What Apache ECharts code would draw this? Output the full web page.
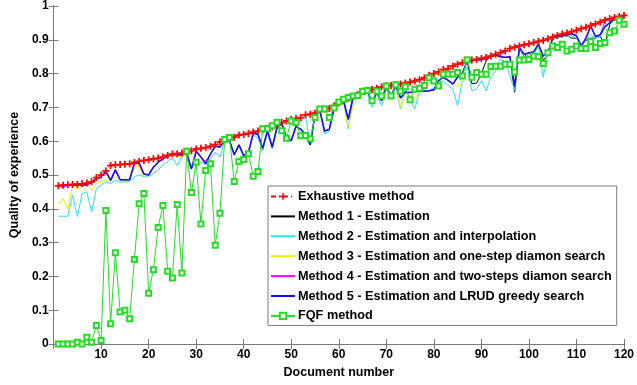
<!DOCTYPE html>
<html>
<head>
<meta charset="utf-8">
<script src="https://cdn.jsdelivr.net/npm/echarts@6/dist/echarts.min.js"></script>
<style>
  html, body { margin: 0; padding: 0; background: #fff; }
  #chart { width: 637px; height: 385px; }
</style>
</head>
<body>
<div id="chart"></div>
<script>
// quality of experience per document, docs 1..120
const exhaustive = [
  0.468, 0.470, 0.471, 0.472, 0.473, 0.474, 0.476, 0.480, 0.492, 0.500,
  0.512, 0.528, 0.530, 0.531, 0.532, 0.533, 0.537, 0.540, 0.543, 0.545,
  0.548, 0.550, 0.553, 0.558, 0.562, 0.563, 0.565, 0.570, 0.572, 0.577,
  0.579, 0.581, 0.585, 0.590, 0.598, 0.605, 0.608, 0.612, 0.618, 0.620,
  0.623, 0.627, 0.630, 0.633, 0.638, 0.642, 0.648, 0.655, 0.660, 0.665,
  0.667, 0.670, 0.678, 0.680, 0.683, 0.693, 0.695, 0.697, 0.705, 0.713,
  0.720, 0.727, 0.732, 0.738, 0.748, 0.750, 0.753, 0.757, 0.760, 0.764,
  0.765, 0.767, 0.769, 0.772, 0.775, 0.778, 0.782, 0.787, 0.795, 0.800,
  0.805, 0.812, 0.815, 0.822, 0.828, 0.832, 0.838, 0.840, 0.842, 0.845,
  0.848, 0.852, 0.857, 0.862, 0.867, 0.874, 0.878, 0.882, 0.885, 0.888,
  0.892, 0.895, 0.898, 0.903, 0.908, 0.913, 0.917, 0.920, 0.924, 0.928,
  0.933, 0.937, 0.942, 0.947, 0.952, 0.958, 0.962, 0.966, 0.969, 0.972
];
const method1 = [
  0.469, 0.468, 0.470, 0.470, 0.470, 0.471, 0.471, 0.478, 0.489, 0.495,
  0.511, 0.484, 0.515, 0.486, 0.486, 0.486, 0.535, 0.535, 0.503, 0.500,
  0.523, 0.538, 0.548, 0.556, 0.560, 0.560, 0.560, 0.565, 0.518, 0.570,
  0.553, 0.535, 0.562, 0.585, 0.583, 0.602, 0.602, 0.560, 0.589, 0.557,
  0.567, 0.624, 0.620, 0.579, 0.631, 0.582, 0.641, 0.654, 0.610, 0.602,
  0.644, 0.635, 0.620, 0.589, 0.680, 0.692, 0.630, 0.635, 0.695, 0.713,
  0.720, 0.665, 0.730, 0.738, 0.748, 0.750, 0.715, 0.745, 0.720, 0.762,
  0.735, 0.765, 0.728, 0.745, 0.744, 0.748, 0.748, 0.748, 0.749, 0.752,
  0.779, 0.789, 0.780, 0.769, 0.790, 0.800, 0.838, 0.770, 0.772, 0.800,
  0.838, 0.851, 0.855, 0.850, 0.848, 0.850, 0.745, 0.877, 0.850, 0.862,
  0.864, 0.887, 0.840, 0.855, 0.905, 0.910, 0.912, 0.915, 0.905, 0.905,
  0.885, 0.898, 0.905, 0.905, 0.910, 0.885, 0.945, 0.962, 0.968, 0.966
];
const method2 = [
  0.378, 0.378, 0.378, 0.440, 0.377, 0.445, 0.450, 0.390, 0.460, 0.470,
  0.480, 0.475, 0.485, 0.478, 0.480, 0.480, 0.495, 0.500, 0.495, 0.495,
  0.505, 0.515, 0.530, 0.540, 0.550, 0.528, 0.553, 0.560, 0.520, 0.538,
  0.538, 0.530, 0.548, 0.567, 0.553, 0.600, 0.600, 0.557, 0.585, 0.553,
  0.563, 0.618, 0.610, 0.572, 0.625, 0.577, 0.635, 0.650, 0.605, 0.600,
  0.640, 0.660, 0.675, 0.590, 0.675, 0.690, 0.621, 0.630, 0.690, 0.710,
  0.718, 0.636, 0.725, 0.735, 0.745, 0.745, 0.700, 0.740, 0.705, 0.755,
  0.725, 0.760, 0.695, 0.755, 0.720, 0.695, 0.750, 0.752, 0.749, 0.758,
  0.764, 0.779, 0.764, 0.754, 0.705, 0.779, 0.820, 0.749, 0.755, 0.779,
  0.749, 0.790, 0.808, 0.843, 0.835, 0.794, 0.750, 0.870, 0.850, 0.855,
  0.858, 0.880, 0.789, 0.858, 0.900, 0.905, 0.908, 0.910, 0.912, 0.905,
  0.878, 0.900, 0.915, 0.905, 0.910, 0.935, 0.948, 0.962, 0.966, 0.960
];
const method3 = [
  0.415, 0.430, 0.398, 0.475, 0.457, 0.470, 0.475, 0.455, 0.475, 0.480,
  0.485, 0.485, 0.495, 0.480, 0.485, 0.485, 0.523, 0.525, 0.496, 0.500,
  0.520, 0.535, 0.548, 0.555, 0.558, 0.555, 0.555, 0.560, 0.518, 0.565,
  0.553, 0.533, 0.562, 0.585, 0.583, 0.602, 0.602, 0.560, 0.589, 0.557,
  0.567, 0.624, 0.620, 0.579, 0.631, 0.582, 0.641, 0.654, 0.610, 0.602,
  0.644, 0.635, 0.620, 0.595, 0.680, 0.692, 0.630, 0.635, 0.695, 0.713,
  0.720, 0.642, 0.705, 0.738, 0.748, 0.750, 0.712, 0.745, 0.718, 0.760,
  0.733, 0.765, 0.700, 0.745, 0.725, 0.725, 0.748, 0.748, 0.749, 0.752,
  0.779, 0.789, 0.780, 0.775, 0.760, 0.795, 0.838, 0.838, 0.840, 0.842,
  0.845, 0.851, 0.855, 0.850, 0.848, 0.845, 0.780, 0.875, 0.855, 0.860,
  0.862, 0.885, 0.830, 0.860, 0.905, 0.910, 0.912, 0.915, 0.918, 0.912,
  0.882, 0.905, 0.940, 0.910, 0.915, 0.940, 0.950, 0.965, 0.968, 0.966
];
const method4 = [
  0.469, 0.462, 0.470, 0.470, 0.470, 0.471, 0.471, 0.478, 0.489, 0.495,
  0.511, 0.484, 0.515, 0.486, 0.486, 0.486, 0.535, 0.535, 0.503, 0.500,
  0.523, 0.538, 0.548, 0.556, 0.560, 0.560, 0.560, 0.565, 0.518, 0.570,
  0.553, 0.540, 0.562, 0.585, 0.583, 0.602, 0.602, 0.560, 0.589, 0.557,
  0.567, 0.624, 0.620, 0.579, 0.631, 0.582, 0.641, 0.654, 0.610, 0.602,
  0.644, 0.635, 0.620, 0.589, 0.680, 0.692, 0.630, 0.635, 0.695, 0.713,
  0.720, 0.665, 0.730, 0.738, 0.748, 0.750, 0.715, 0.745, 0.720, 0.762,
  0.735, 0.765, 0.728, 0.745, 0.744, 0.748, 0.748, 0.748, 0.749, 0.752,
  0.779, 0.789, 0.780, 0.769, 0.790, 0.800, 0.838, 0.838, 0.840, 0.842,
  0.845, 0.851, 0.855, 0.850, 0.848, 0.852, 0.762, 0.877, 0.858, 0.860,
  0.865, 0.887, 0.852, 0.862, 0.905, 0.910, 0.912, 0.915, 0.918, 0.912,
  0.882, 0.905, 0.940, 0.910, 0.915, 0.955, 0.960, 0.965, 0.968, 0.966
];
const method5 = [
  0.469, 0.469, 0.470, 0.470, 0.470, 0.471, 0.471, 0.478, 0.489, 0.495,
  0.511, 0.484, 0.515, 0.486, 0.486, 0.486, 0.535, 0.535, 0.503, 0.500,
  0.523, 0.538, 0.548, 0.556, 0.560, 0.560, 0.560, 0.565, 0.518, 0.570,
  0.553, 0.533, 0.562, 0.585, 0.583, 0.602, 0.602, 0.560, 0.589, 0.557,
  0.567, 0.624, 0.620, 0.579, 0.631, 0.582, 0.641, 0.654, 0.610, 0.602,
  0.644, 0.635, 0.620, 0.589, 0.680, 0.692, 0.630, 0.635, 0.695, 0.713,
  0.720, 0.665, 0.730, 0.738, 0.748, 0.750, 0.715, 0.745, 0.720, 0.762,
  0.735, 0.765, 0.728, 0.745, 0.744, 0.748, 0.748, 0.748, 0.749, 0.752,
  0.779, 0.789, 0.780, 0.769, 0.790, 0.800, 0.838, 0.838, 0.840, 0.842,
  0.845, 0.851, 0.855, 0.850, 0.848, 0.850, 0.762, 0.877, 0.857, 0.862,
  0.864, 0.887, 0.852, 0.862, 0.905, 0.910, 0.912, 0.915, 0.918, 0.912,
  0.882, 0.905, 0.940, 0.910, 0.915, 0.940, 0.950, 0.965, 0.968, 0.966
];
const fqf = [
  0.000, 0.000, 0.000, 0.000, 0.005, 0.000, 0.020, 0.005, 0.055, 0.010,
  0.395, 0.060, 0.270, 0.095, 0.100, 0.075, 0.250, 0.415, 0.445, 0.150,
  0.220, 0.345, 0.410, 0.215, 0.195, 0.413, 0.210, 0.570, 0.448, 0.538,
  0.355, 0.513, 0.533, 0.292, 0.387, 0.605, 0.611, 0.481, 0.540, 0.546,
  0.563, 0.496, 0.510, 0.637, 0.637, 0.646, 0.656, 0.631, 0.609, 0.660,
  0.655, 0.616, 0.617, 0.607, 0.670, 0.695, 0.695, 0.670, 0.698, 0.716,
  0.724, 0.729, 0.734, 0.735, 0.747, 0.750, 0.720, 0.748, 0.734, 0.763,
  0.734, 0.767, 0.748, 0.761, 0.723, 0.754, 0.757, 0.765, 0.788, 0.778,
  0.763, 0.798, 0.799, 0.798, 0.803, 0.793, 0.841, 0.789, 0.803, 0.798,
  0.798, 0.821, 0.822, 0.822, 0.828, 0.828, 0.805, 0.840, 0.840, 0.842,
  0.852, 0.850, 0.830, 0.862, 0.882, 0.877, 0.887, 0.867, 0.872, 0.882,
  0.874, 0.874, 0.895, 0.877, 0.889, 0.892, 0.921, 0.926, 0.958, 0.946
];

const seriesNames = [
  "Exhaustive method",
  "Method 1 - Estimation",
  "Method 2 - Estimation and interpolation",
  "Method 3 - Estimation and one-step diamon search",
  "Method 4 - Estimation and two-steps diamon search",
  "Method 5 - Estimation and LRUD greedy search",
  "FQF method"
];
const xTicks = [0, 120, 10];
const yTicks = [0, 1, 0.1];

const docs = exhaustive.map((_, i) => i + 1);
const pairs = (vals) => vals.map((v, i) => [docs[i], v]);

const font = "'Liberation Sans', Arial, sans-serif";
const plus = "path://M3,0H5V3H8V5H5V8H3V5H0V3H3Z";

const chart = echarts.init(document.getElementById("chart"));

const axisLine = { show: true, lineStyle: { color: "#7a7a7a", width: 1 } };
const tick = { show: true, inside: true, length: 5, lineStyle: { color: "#7a7a7a" } };

function line(name, vals, color, extra) {
  return Object.assign({
    name,
    type: "line",
    data: pairs(vals),
    symbol: "none",
    lineStyle: { color, width: 1 },
    itemStyle: { color },
    animation: false,
  }, extra || {});
}

// only the marker series keep a symbol in the legend
const legendData = seriesNames.map((name, i) =>
  i === 0 || i === 6 ? { name } : { name, itemStyle: { opacity: 0 } }
);

chart.setOption({
  animation: false,
  backgroundColor: "#fff",
  textStyle: { fontFamily: font },
  grid: { left: 37, right: 9, top: 5, bottom: 41 },
  legend: {
    orient: "vertical",
    left: 268,
    top: 186,
    itemWidth: 24,
    itemHeight: 8,
    itemGap: 6.9,
    padding: [4, 5, 3, 2],
    backgroundColor: "#fff",
    borderColor: "#7a7a7a",
    borderWidth: 1,
    borderRadius: 0,
    textStyle: { fontFamily: font, fontWeight: "bold", fontSize: 12.7, color: "#000", padding: [0, 0, 0, -2] },
    data: legendData,
  },
  xAxis: [
    {
      type: "value",
      min: xTicks[0], max: xTicks[1], interval: xTicks[2],
      name: "Document number",
      nameLocation: "middle",
      nameGap: 22,
      nameTextStyle: { fontFamily: font, fontWeight: "bold", fontSize: 12.5, color: "#000" },
      axisLine, axisTick: tick,
      splitLine: { show: false },
      axisLabel: {
        margin: 5, fontFamily: font, fontWeight: "bold", fontSize: 12, color: "#000",
        formatter: (v) => (v === 0 ? "" : v),
      },
    },
    {
      type: "value", position: "top",
      min: xTicks[0], max: xTicks[1], interval: xTicks[2],
      axisLine, axisTick: tick, axisLabel: { show: false }, splitLine: { show: false },
    },
  ],
  yAxis: [
    {
      type: "value",
      min: yTicks[0], max: yTicks[1], interval: yTicks[2],
      name: "Quality of experience",
      nameLocation: "middle",
      nameGap: 21,
      nameTextStyle: { fontFamily: font, fontWeight: "bold", fontSize: 12.5, color: "#000" },
      axisLine, axisTick: tick,
      splitLine: { show: false },
      axisLabel: { margin: 5, fontFamily: font, fontWeight: "bold", fontSize: 12, color: "#000" },
    },
    {
      type: "value", position: "right",
      min: yTicks[0], max: yTicks[1], interval: yTicks[2],
      axisLine, axisTick: tick, axisLabel: { show: false }, splitLine: { show: false },
    },
  ],
  series: [
    line(seriesNames[0], exhaustive, "#ff0000", {
      z: 4,
      symbol: plus, symbolSize: 7, showSymbol: true,
      lineStyle: { color: "#ff0000", width: 1, type: [5, 3, 1, 3] },
    }),
    line(seriesNames[1], method1, "#000000"),
    line(seriesNames[2], method2, "#22e5f0"),
    line(seriesNames[3], method3, "#f0f000"),
    line(seriesNames[4], method4, "#ff00ff"),
    line(seriesNames[5], method5, "#1010ff", { lineStyle: { color: "#1010ff", width: 1.5 } }),
    line(seriesNames[6], fqf, "#22dd22", {
      z: 5,
      symbol: "emptyRect", symbolSize: 5, showSymbol: true,
      itemStyle: { color: "#22dd22", borderColor: "#22dd22", borderWidth: 1.2 },
    }),
  ],
});
</script>
</body>
</html>
